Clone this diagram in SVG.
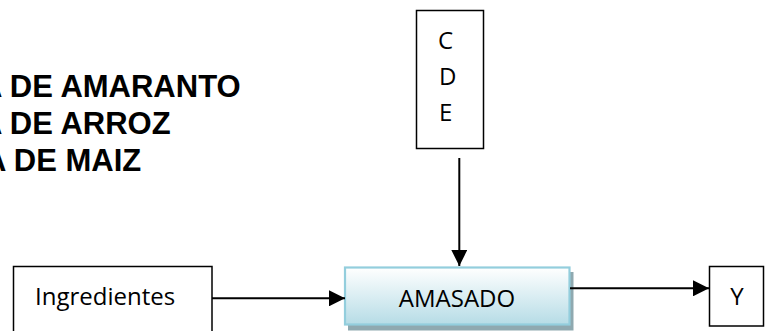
<svg xmlns="http://www.w3.org/2000/svg" width="765" height="331" viewBox="0 0 765 331">
<defs>
<style>
.box{fill:#ffffff;stroke:#000000;stroke-width:1.5}
.lbl{font-family:"Open Sans","Liberation Sans",sans-serif;font-size:24px;fill:#000000}
.big{font-family:"Liberation Sans",Arial,sans-serif;font-size:31px;font-weight:bold;fill:#000000}
.conn{stroke:#000000;stroke-width:2;fill:none}
</style>
<linearGradient id="g1" x1="0" y1="0" x2="0" y2="1">
<stop offset="0" stop-color="#ffffff"/>
<stop offset="1" stop-color="#b6dce6"/>
</linearGradient>
<marker id="ah" viewBox="0 0 16 16" refX="16" refY="8" markerWidth="16" markerHeight="16" markerUnits="userSpaceOnUse" orient="auto">
<path d="M0,0 L16,8 L0,16 Z" fill="#000000"/>
</marker>
</defs>
<rect width="765" height="331" fill="#ffffff"/>
<g id="title">
<text class="big" x="-20" y="97">A DE AMARANTO</text>
<text class="big" x="-20" y="134">A DE ARROZ</text>
<text class="big" x="-16" y="171">A DE MAIZ</text>
</g>
<g id="node-cde">
<rect class="box" x="416.5" y="10.5" width="67" height="138"/>
<text class="lbl" x="438" y="49" font-size="22">C</text>
<text class="lbl" x="439" y="85" font-size="22">D</text>
<text class="lbl" x="439" y="121" font-size="22">E</text>
</g>
<g id="node-ingredientes">
<rect class="box" x="13.5" y="266.5" width="198.5" height="70"/>
<text class="lbl" x="35" y="305">Ingredientes</text>
</g>
<g id="node-amasado">
<rect x="348" y="272" width="225.5" height="58.5" fill="#8fa9b0"/>
<rect x="345" y="267.5" width="224.5" height="57" fill="url(#g1)" stroke="#93cedd" stroke-width="2.2"/>
<text class="lbl" x="457" y="306.5" text-anchor="middle">AMASADO</text>
</g>
<g id="node-y">
<rect class="box" x="709.5" y="266.5" width="54" height="59.5"/>
<text class="lbl" x="737" y="305" text-anchor="middle">Y</text>
</g>
<g id="connectors">
<line class="conn" x1="459.3" y1="158" x2="459.3" y2="266" marker-end="url(#ah)"/>
<line class="conn" x1="212" y1="298.3" x2="345" y2="298.3" marker-end="url(#ah)"/>
<line class="conn" x1="570" y1="288.3" x2="709" y2="288.3" marker-end="url(#ah)"/>
</g>
</svg>
